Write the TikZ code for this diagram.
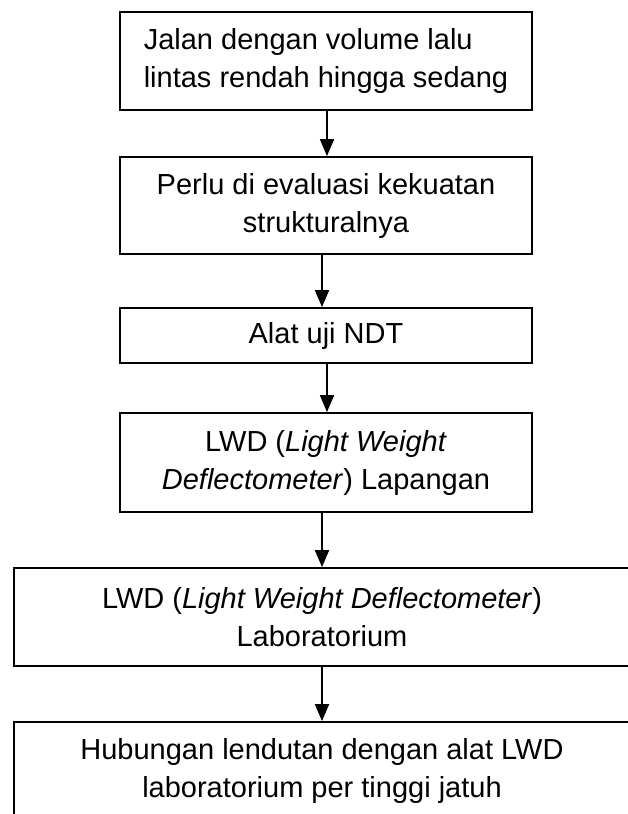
\documentclass[tikz,border=0pt]{standalone}
\usepackage{fontspec}
\setmainfont{Liberation Sans}
\usetikzlibrary{arrows.meta}
\begin{document}
\begin{tikzpicture}[x=1pt,y=1pt,
  box/.style={draw, line width=1.8pt, rectangle, inner sep=0pt, font=\fontsize{29}{38}\selectfont, align=center},
  flow/.style={line width=1.8pt, -{Triangle[length=17pt,width=14pt]}}]
\useasboundingbox (0,0) rectangle (627,-814);
\node[box, minimum width=412pt, minimum height=98pt, align=left] (b1) at (326,-61) {Jalan dengan volume lalu\\lintas rendah hingga sedang};
\node[box, minimum width=412pt, minimum height=97pt] (b2) at (326,-205.5) {Perlu di evaluasi kekuatan\\strukturalnya};
\node[box, minimum width=412pt, minimum height=55pt] (b3) at (326,-335.5) {Alat uji NDT};
\node[box, minimum width=412pt, minimum height=99pt] (b4) at (326,-462.5) {LWD (\textit{Light Weight}\\\textit{Deflectometer}) Lapangan};
\node[box, minimum width=616pt, minimum height=98pt] (b5) at (322,-617) {LWD (\textit{Light Weight Deflectometer})\\Laboratorium};
\node[box, minimum width=616pt, minimum height=98pt] (b6) at (322,-771) {Hubungan lendutan dengan alat LWD\\laboratorium per tinggi jatuh};
\coordinate (xa) at (327,0);
\coordinate (xb) at (322,0);
\draw[flow] (b1.south -| xa) -- (b2.north -| xa);
\draw[flow] (b2.south -| xb) -- (b3.north -| xb);
\draw[flow] (b3.south -| xa) -- (b4.north -| xa);
\draw[flow] (b4.south -| xb) -- (b5.north -| xb);
\draw[flow] (b5.south -| xb) -- (b6.north -| xb);
\end{tikzpicture}
\end{document}
